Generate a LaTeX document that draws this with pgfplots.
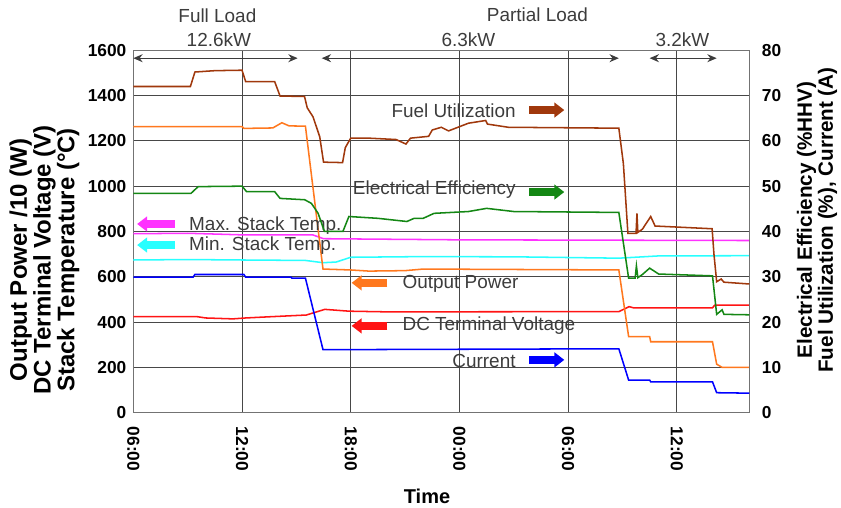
\documentclass[border=0pt]{standalone}
\usepackage{pgfplots}
\pgfplotsset{compat=1.18}
\usepackage{fontspec}
\setmainfont{Liberation Sans}
\usetikzlibrary{arrows.meta}

\definecolor{fu}{RGB}{160,56,12}
\definecolor{op}{RGB}{255,120,30}
\definecolor{ee}{RGB}{20,135,20}
\definecolor{dv}{RGB}{255,20,20}
\definecolor{cu}{RGB}{0,0,255}
\definecolor{mx}{RGB}{255,50,255}
\definecolor{mn}{RGB}{40,255,255}
\definecolor{tx}{RGB}{60,60,60}

\pgfplotsset{
  base/.style={
    scale only axis, width=462pt, height=271.8pt,
    xmin=6, xmax=40,
    major tick length=0pt,
    axis line style={black!55, line width=1pt},
    ticklabel style={font=\fontsize{13}{13}\selectfont\bfseries},
    /pgf/number format/assume math mode=true,
    /pgf/number format/1000 sep={},
    clip=false,
  }
}
\newcommand{\ann}{\fontsize{14.2}{16}\selectfont}

\begin{document}
\begin{tikzpicture}
\useasboundingbox (-100pt,-71.5pt) rectangle (530.8pt,309.5pt);
% ---------------- left axis ----------------
\begin{axis}[base,
  ymin=0, ymax=1600, ytick={0,200,...,1600},
  xtick={6,12,18,24,30,36},
  xticklabels={06:00,12:00,18:00,00:00,06:00,12:00},
  xticklabel style={rotate=-90, anchor=west, inner sep=0pt},
  xticklabel shift=10.5pt,
  yticklabel style={anchor=east, inner sep=0pt},
  yticklabel shift=5pt,
  grid=major,
  grid style={black!72, line width=0.75pt},
]
% Max. stack temperature
\addplot[mx, line width=1.15pt] coordinates {
(6,790) (9,792) (12,785) (15.9,785) (16.5,768) (18,767) (24,763) (40,760)};
% Min. stack temperature
\addplot[mn, line width=1.15pt] coordinates {
(6,674) (9,676) (12,674) (15.5,672) (16.47,662) (17.2,665) (18,686) (22,689) (27,688) (32.8,682) (35,692) (40,693)};
% DC terminal voltage
\addplot[dv, line width=1.15pt] coordinates {
(6,424) (9.5,424) (10,418) (11.5,414) (12.2,418) (13.7,424) (15.55,431) (16.57,456) (17.9,448) (20,445) (32.8,446) (33.37,468) (33.6,463) (37.97,463) (38.1,475) (40,475)};
% Output power /10
\addplot[op, line width=1.15pt] coordinates {
(6,1263) (12.0,1263) (12.1,1255) (13.7,1257) (14.2,1280) (14.6,1266) (15.5,1265) (16.47,634) (18,630) (19,625) (21,627) (22,634) (32.8,630) (33.34,336) (34.5,336) (34.56,313) (37.97,313) (38.2,214) (38.5,200) (40,200)};

% top annotations
\node[tx, font=\ann] at (axis cs:10.64,1751) {Full Load};
\node[tx, font=\ann] at (axis cs:10.72,1645) {12.6kW};
\node[tx, font=\ann] at (axis cs:28.31,1755) {Partial Load};
\node[tx, font=\ann] at (axis cs:24.5,1645) {6.3kW};
\node[tx, font=\ann] at (axis cs:36.31,1645) {3.2kW};
\draw[tx, line width=0.8pt, {Stealth[length=7pt,width=6pt]}-{Stealth[length=7pt,width=6pt]}] (axis cs:6,1565) -- (axis cs:15.07,1565);
\draw[tx, line width=0.8pt, {Stealth[length=7pt,width=6pt]}-{Stealth[length=7pt,width=6pt]}] (axis cs:16.4,1565) -- (axis cs:32.8,1565);
\draw[tx, line width=0.8pt, {Stealth[length=7pt,width=6pt]}-{Stealth[length=7pt,width=6pt]}] (axis cs:34.5,1565) -- (axis cs:38.2,1565);

% in-plot legend texts
\node[tx, font=\ann, anchor=east, inner sep=0pt] at (axis cs:27.12,1332) {Fuel Utilization};
\node[tx, font=\ann, anchor=east, inner sep=0pt] at (axis cs:27.12,983) {Electrical Efficiency};
\node[tx, font=\ann, anchor=west, inner sep=0pt] at (axis cs:9.07,825) {Max. Stack Temp.};
\node[tx, font=\ann, anchor=west, inner sep=0pt] at (axis cs:9.07,737) {Min. Stack Temp.};
\node[tx, font=\ann, anchor=west, inner sep=0pt] at (axis cs:20.85,568) {Output Power};
\node[tx, font=\ann, anchor=west, inner sep=0pt] at (axis cs:20.85,383) {DC Terminal Voltage};
\node[tx, font=\ann, anchor=west, inner sep=0pt] at (axis cs:23.6,230) {Current};

% fat arrows
\draw[fu, line width=6pt, -{Triangle[length=7.5pt,width=11pt]}] (axis cs:27.86,1336) -- (axis cs:29.79,1336);
\draw[ee, line width=6pt, -{Triangle[length=7.5pt,width=11pt]}] (axis cs:27.86,974) -- (axis cs:29.79,974);
\draw[mx, line width=6pt, -{Triangle[length=7.5pt,width=11pt]}] (axis cs:8.30,833) -- (axis cs:6.21,833);
\draw[mn, line width=6pt, -{Triangle[length=7.5pt,width=11pt]}] (axis cs:8.30,740) -- (axis cs:6.21,740);
\draw[op, line width=6pt, -{Triangle[length=7.5pt,width=11pt]}] (axis cs:20.03,573) -- (axis cs:18.05,573);
\draw[dv, line width=6pt, -{Triangle[length=7.5pt,width=11pt]}] (axis cs:20.03,383) -- (axis cs:18.05,383);
\draw[cu, line width=6pt, -{Triangle[length=7.5pt,width=11pt]}] (axis cs:27.86,233) -- (axis cs:29.79,233);

% axis titles
\node[rotate=90, align=center, font=\fontsize{18}{16.3}\selectfont\bfseries] at (axis description cs:-0.1442,0.4213)
  {Output Power /10 (W)\\DC Terminal Voltage (V)\\Stack Temperature (°C)};
\node[rotate=90, align=center, font=\fontsize{15.5}{15.75}\selectfont\bfseries] at (axis description cs:1.110,0.5316)
  {Electrical Efficiency (\%HHV)\\Fuel Utilization (\%), Current (A)};
\node[font=\fontsize{15}{15}\selectfont\bfseries] at (axis description cs:0.4768,-0.230) {Time};
\end{axis}
% ---------------- right axis ----------------
\begin{axis}[base,
  ymin=0, ymax=80, ytick={0,10,...,80},
  axis x line=none, axis y line*=right,
  yticklabel style={anchor=west, inner sep=0pt},
  yticklabel shift=9.3pt,
]
% Fuel utilization
\addplot[fu, line width=1.15pt] coordinates {
(6,72.0) (9.15,72.0) (9.4,75.2) (10.5,75.5) (12.0,75.6) (12.2,73.1) (13.8,73.1) (14.1,69.9) (15.45,69.8) (15.6,67.3) (15.92,65.3) (16.29,60.9) (16.5,55.3) (17.55,55.2) (17.7,58.5) (18.0,60.6) (19,60.6) (20.5,60.3) (21.05,59.3) (21.3,60.6) (22.3,61.0) (22.5,62.4) (23.0,63.0) (23.4,62.2) (24.5,63.9) (25.45,64.5) (25.55,63.7) (26.7,63.0) (32.8,62.8) (33.05,55) (33.3,39.6) (33.75,39.6) (33.8,44) (33.85,39.8) (34.1,40.5) (34.56,43.3) (34.8,41.2) (37.95,40.6) (38.05,35) (38.2,28.9) (38.45,29.5) (38.6,28.8) (40,28.4)};
% Electrical efficiency
\addplot[ee, line width=1.15pt] coordinates {
(6,48.4) (9.18,48.4) (9.58,49.9) (12.0,50.0) (12.25,48.8) (13.8,48.8) (14.1,47.3) (15.46,47.0) (15.83,46.2) (16.2,44) (16.55,40) (17.57,40) (17.9,43.3) (19.5,42.9) (21.1,42.2) (21.5,42.9) (22.0,42.9) (22.6,44.0) (24.5,44.4) (25.5,45.1) (27,44.4) (32.8,44.2) (33.34,29.7) (33.7,29.7) (33.77,32.4) (33.85,29.8) (34.1,30.5) (34.5,31.9) (35,30.6) (37.97,30.2) (38.2,21.7) (38.5,22.7) (38.6,21.7) (40,21.6)};
% Current
\addplot[cu, line width=1.15pt] coordinates {
(6,29.9) (9.3,29.9) (9.4,30.5) (12.1,30.5) (12.2,29.9) (14.7,29.9) (14.75,29.7) (15.5,29.7) (16.47,13.9) (32.8,14.1) (33.34,7.2) (34.5,7.2) (34.56,6.8) (37.97,6.8) (38.2,4.4) (40,4.3)};
\end{axis}
\end{tikzpicture}
\end{document}
